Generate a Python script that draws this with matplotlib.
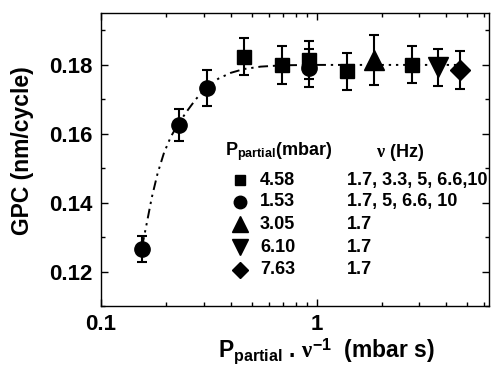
import numpy as np
import matplotlib
matplotlib.use("Agg")
import matplotlib.pyplot as plt
from matplotlib.ticker import LogLocator, MultipleLocator, FixedFormatter, FixedLocator

plt.rcParams['font.family'] = ['Liberation Sans', 'DejaVu Sans']
plt.rcParams['font.weight'] = 'bold'
plt.rcParams['mathtext.fontset'] = 'custom'
plt.rcParams['mathtext.rm'] = 'Liberation Sans:bold'
plt.rcParams['mathtext.it'] = 'Liberation Serif'
plt.rcParams['mathtext.bf'] = 'Liberation Sans:bold'

# measured points: (x = P/nu in mbar s, GPC in nm/cycle, error)
circle_x = [0.155, 0.229, 0.309, 0.92]
circle_y = [0.1265, 0.1625, 0.1733, 0.1792]
circle_err = [0.0038, 0.0047, 0.0051, 0.0055]

square_x = [0.461, 0.691, 0.918, 1.38, 2.76]
square_y = [0.1824, 0.1800, 0.1815, 0.1781, 0.1801]
square_err = [0.0054, 0.0055, 0.0055, 0.0053, 0.0054]

up_x = [1.84]
up_y = [0.1814]
up_err = [0.0073]

down_x = [3.67]
down_y = [0.1793]
down_err = [0.0053]

diamond_x = [4.63]
diamond_y = [0.1784]
diamond_err = [0.0055]

# guide line
fit_x = [0.155, 0.163, 0.172, 0.183, 0.196, 0.211, 0.229, 0.25, 0.275, 0.309,
         0.35, 0.40, 0.46, 0.55, 0.70, 1.0, 2.0, 4.7]
fit_y = [0.1272, 0.1340, 0.1415, 0.1485, 0.1545, 0.1592, 0.1630, 0.1665, 0.1700,
         0.1735, 0.1760, 0.1777, 0.1788, 0.1795, 0.1799, 0.1800, 0.1800, 0.1800]

# legend table
leg_markers = ['s', 'o', '^', 'v', 'D']
leg_pressure = ['4.58', '1.53', '3.05', '6.10', '7.63']
leg_freq = ['1.7, 3.3, 5, 6.6,10', '1.7, 5, 6.6, 10', '1.7', '1.7', '1.7']

fig = plt.figure(figsize=(5.01, 3.68), dpi=100)
ax = fig.add_axes([0.2016, 0.1685, 0.7744, 0.7955])

ax.plot(fit_x, fit_y, color='black', lw=1.4,
        linestyle=(0, (5, 2.5, 1.2, 2.5, 1.2, 2.5)), zorder=1)

ebkw = dict(color='black', ecolor='black', elinewidth=1.5, capsize=3.5,
            capthick=1.5, linestyle='none', zorder=3)
ax.errorbar(square_x, square_y, yerr=square_err, marker='s', ms=10, **ebkw)
ax.errorbar(circle_x, circle_y, yerr=circle_err, marker='o', ms=11, **ebkw)
ax.errorbar(up_x, up_y, yerr=up_err, marker='^', ms=15, **ebkw)
ax.errorbar(down_x, down_y, yerr=down_err, marker='v', ms=15, **ebkw)
ax.errorbar(diamond_x, diamond_y, yerr=diamond_err, marker='D', ms=10, **ebkw)

ax.set_xscale('log')
ax.set_xlim(0.1, 6.3)
ax.set_ylim(0.11, 0.195)
ax.xaxis.set_major_locator(FixedLocator([0.1, 1]))
ax.xaxis.set_major_formatter(FixedFormatter(['0.1', '1']))
ax.xaxis.set_minor_locator(LogLocator(base=10, subs=np.arange(2, 10)))
ax.xaxis.set_minor_formatter(plt.NullFormatter())
ax.yaxis.set_major_locator(MultipleLocator(0.02))
ax.yaxis.set_minor_locator(MultipleLocator(0.01))
ax.yaxis.set_major_formatter(plt.FuncFormatter(lambda v, p: f'{v:.2f}'))

ax.tick_params(which='both', direction='in', top=True, right=True, width=1)
ax.tick_params(which='major', length=5, labelsize=16, pad=6)
ax.tick_params(which='minor', length=3)
for s in ax.spines.values():
    s.set_linewidth(1)

ax.set_ylabel('GPC (nm/cycle)', fontsize=16.5, fontweight='bold')
ax.yaxis.set_label_coords(-0.173, 0.53)
ax.set_xlabel(r'P$_{\mathrm{partial}}$ . $\nu^{-1}$  (mbar s)', fontsize=16.5,
              fontweight='bold')
ax.xaxis.set_label_coords(0.58, -0.105)

# legend table
ax.text(0.32, 0.526, r'P$_{\mathrm{partial}}$(mbar)', transform=ax.transAxes,
        fontsize=13, fontweight='bold', va='center', ha='left')
ax.text(0.71, 0.526, r'$\nu$ (Hz)', transform=ax.transAxes,
        fontsize=13, fontweight='bold', va='center', ha='left')
row_y = [0.430, 0.356, 0.279, 0.200, 0.123]
leg_ms = [7.5, 9, 11, 11, 8.5]
for m, p, f, yy, s in zip(leg_markers, leg_pressure, leg_freq, row_y, leg_ms):
    ax.plot([0.358], [yy], marker=m, ms=s, color='black', linestyle='none',
            transform=ax.transAxes)
    ax.text(0.41, yy, p, transform=ax.transAxes, fontsize=13,
            fontweight='bold', va='center', ha='left')
    ax.text(0.633, yy, f, transform=ax.transAxes, fontsize=13,
            fontweight='bold', va='center', ha='left')

fig.savefig('out.png', dpi=100)
